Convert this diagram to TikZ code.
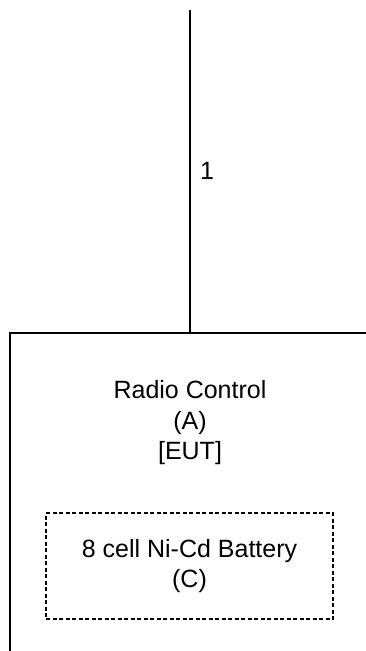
\documentclass[tikz,border=0pt]{standalone}
\usepackage{fontspec}
\setmainfont{Liberation Sans}
\begin{document}
\begin{tikzpicture}[x=1pt,y=-1pt,line width=1.4pt,
  txt/.style={font=\fontsize{25}{30.5}\selectfont,align=center,inner sep=0pt},
  eutbox/.style={draw,rectangle,minimum width=360pt,minimum height=322pt,inner sep=0pt},
  batbox/.style={draw,rectangle,dash pattern=on 4pt off 2.5pt,line width=1.3pt,
    minimum width=287pt,minimum height=106pt,inner sep=0pt,align=center,
    font=\fontsize{25}{30.5}\selectfont}]
\clip (0,0) rectangle (366,651);
\coordinate (top) at (190,10);
\node[eutbox] (eut) at (190,494) {};
\draw (top) -- (eut.north);
\node[txt] (one) at (207,171) {1};
\node[txt] (eutlabel) at (190,423) {Radio Control\\(A)\\{[EUT]}};
\node[batbox] (bat) at (189.5,566) {8 cell Ni-Cd Battery\\(C)};
\end{tikzpicture}
\end{document}
